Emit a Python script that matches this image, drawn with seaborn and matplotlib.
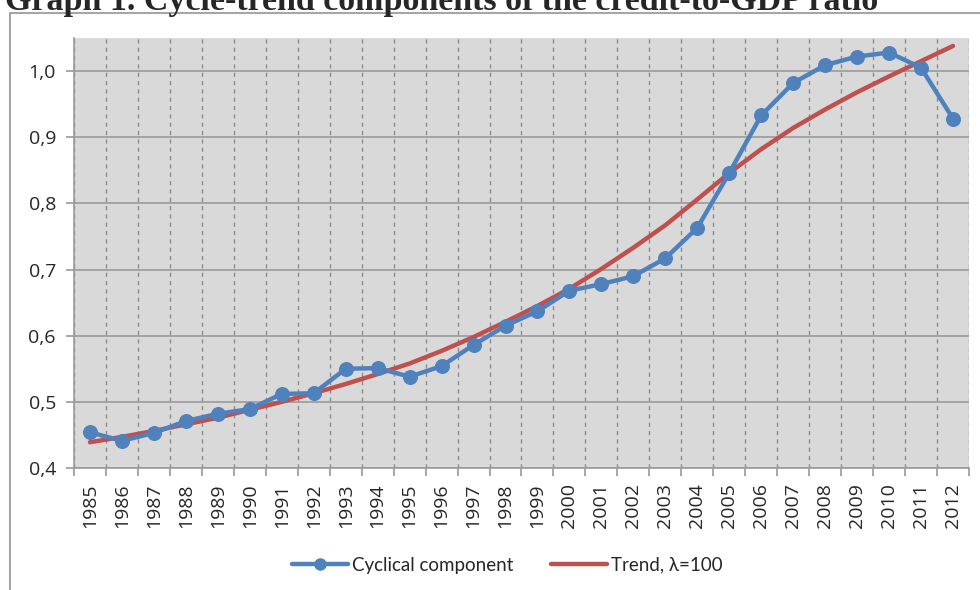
import matplotlib
matplotlib.use("Agg")
import matplotlib.pyplot as plt
from matplotlib.lines import Line2D
from matplotlib.ticker import FuncFormatter, MultipleLocator
import pandas as pd
import seaborn as sns

# values
years = list(range(1985, 2013))
cyclical = [0.454, 0.441, 0.453, 0.471, 0.482, 0.489, 0.512, 0.513, 0.550, 0.551,
            0.538, 0.554, 0.586, 0.615, 0.637, 0.668, 0.678, 0.690, 0.717, 0.763,
            0.846, 0.933, 0.982, 1.009, 1.022, 1.028, 1.005, 0.928]
trend = [0.439, 0.447, 0.456, 0.466, 0.476, 0.488, 0.500, 0.513, 0.527, 0.542,
         0.558, 0.577, 0.598, 0.621, 0.645, 0.671, 0.701, 0.733, 0.767, 0.806,
         0.846, 0.882, 0.914, 0.942, 0.968, 0.992, 1.015, 1.038]
series_names = ["Cyclical component", "Trend, \u03bb=100"]
title = "Graph 1. Cycle-trend components of the credit-to-GDP ratio"

df = pd.DataFrame({"year": years, "cyc": cyclical, "trend": trend})

sns.set_theme(style="white")
plt.rcParams["font.family"] = ["Open Sans", "DejaVu Sans"]

blue = "#4f81bd"
red = "#c0504d"

fig = plt.figure(figsize=(9.8, 5.9), dpi=100)
ax = fig.add_axes([74 / 980, 1 - 468 / 590, (969 - 74) / 980, (468 - 38) / 590])
ax.set_facecolor("#d9d9d9")

# grid
ax.set_xlim(1984.5, 2012.5)
ax.set_ylim(0.4, 1.05)
ax.set_yticks([0.4, 0.5, 0.6, 0.7, 0.8, 0.9, 1.0])
ax.yaxis.grid(True, color="#9a9a9a", linewidth=1.2, linestyle="-")
ax.set_xticks(years)
ax.xaxis.set_minor_locator(MultipleLocator(1, offset=0.5))
ax.xaxis.grid(True, which="minor", color="#8c8c8c", linewidth=1.0, linestyle=(0, (3, 3)))
ax.set_axisbelow(True)

sns.lineplot(data=df, x="year", y="trend", ax=ax, color=red, linewidth=3.2, zorder=3)
sns.lineplot(data=df, x="year", y="cyc", ax=ax, color=blue, linewidth=3.2,
             marker="o", markersize=10, markeredgecolor=blue, zorder=4)

ax.set_xlabel("")
ax.set_ylabel("")
ax.yaxis.set_major_formatter(FuncFormatter(lambda v, p: f"{v:.1f}".replace(".", ",")))
ax.tick_params(axis="y", which="major", length=6, width=1.2, color="#9a9a9a",
               labelsize=14, pad=7, labelcolor="#262626", left=True)
ax.tick_params(axis="x", which="major", length=0, labelsize=14, pad=11,
               labelrotation=90, labelcolor="#262626")
ax.tick_params(axis="x", which="minor", length=6, width=1.2, color="#9a9a9a", bottom=True)

for side in ["top", "right"]:
    ax.spines[side].set_visible(False)
ax.spines["left"].set_color("#9a9a9a")
ax.spines["left"].set_linewidth(1.2)
ax.spines["bottom"].set_color("#9a9a9a")
ax.spines["bottom"].set_linewidth(1.2)

handles = [Line2D([], [], color=blue, linewidth=3.2, marker="o", markersize=8),
           Line2D([], [], color=red, linewidth=3.2)]
fig.legend(handles, series_names, loc="center", bbox_to_anchor=(507 / 980, 25 / 590),
           ncol=2, frameon=False, handlelength=3.0, handletextpad=0.2,
           columnspacing=2.0, prop={"family": ["Lato", "DejaVu Sans"], "size": 13.5},
           labelcolor="#262626")

# chart frame and clipped title
fig.add_artist(Line2D([10 / 980, 10 / 980], [0, 1 - 13 / 590], color="#a6a6a6",
                      linewidth=1.5, transform=fig.transFigure))
fig.add_artist(Line2D([10 / 980, 1], [1 - 13 / 590, 1 - 13 / 590], color="#a6a6a6",
                      linewidth=1.5, transform=fig.transFigure))
fig.text(5 / 980, 1 - 10 / 590, title, ha="left", va="baseline",
         family=["Liberation Serif", "DejaVu Serif"], fontweight="bold", fontsize=24.5)

fig.savefig("out.png", dpi=100)
plt.close("all")
